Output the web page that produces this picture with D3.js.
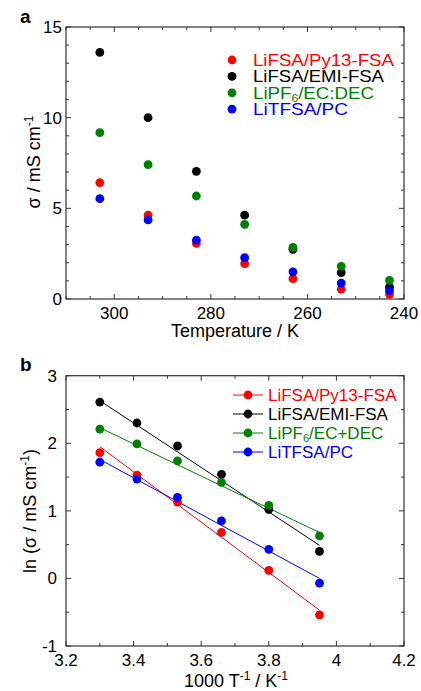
<!DOCTYPE html>
<html><head><meta charset="utf-8">
<script src="https://cdn.jsdelivr.net/npm/d3@7"></script>
<style>
html,body{margin:0;padding:0;background:#fff;}
text{font-family:"Liberation Sans",Arial,Helvetica,sans-serif;}
</style></head>
<body>
<svg id="chart" width="421" height="691"></svg>
<script>
// ---- Data ----
const seriesNames = ["LiFSA/Py13-FSA", "LiFSA/EMI-FSA", "LiPF6/EC:DEC", "LiTFSA/PC"];
const seriesColors = ["#ff0000", "#000000", "#008000", "#0000ff"];
const temperatures = [303, 293, 283, 273, 263, 253, 243];
const sigmaPy13 = [6.42, 4.62, 3.07, 1.95, 1.12, 0.55, 0.26];
const sigmaEMI  = [13.6, 10.0, 7.04, 4.62, 2.74, 1.45, 0.65];
const sigmaLiPF6 = [9.17, 7.41, 5.68, 4.12, 2.85, 1.80, 1.03];
const sigmaLiTFSA = [5.53, 4.36, 3.25, 2.28, 1.49, 0.88, 0.46];

const invT = [3.30, 3.41, 3.53, 3.66, 3.80, 3.95];
const lnPy13 = [1.86, 1.53, 1.13, 0.68, 0.12, -0.54];
const lnEMI  = [2.61, 2.30, 1.96, 1.54, 1.02, 0.40];
const lnLiPF6 = [2.21, 1.99, 1.74, 1.42, 1.08, 0.63];
const lnLiTFSA = [1.72, 1.47, 1.20, 0.85, 0.43, -0.07];

const fitX = [3.30, 3.95];
const fitPy13 = [1.95, -0.47];
const fitEMI = [2.63, 0.49];
const fitLiPF6 = [2.23, 0.68];
const fitLiTFSA = [1.76, 0.00];

const topXTicks = [300, 280, 260, 240];
const topYTicks = [0, 5, 10, 15];
const botXTicks = [3.2, 3.4, 3.6, 3.8, 4, 4.2];
const botYTicks = [-1, 0, 1, 2, 3];

const topSigma = [sigmaPy13, sigmaEMI, sigmaLiPF6, sigmaLiTFSA];
const botLn = [lnPy13, lnEMI, lnLiPF6, lnLiTFSA];
const fits = [fitPy13, fitEMI, fitLiPF6, fitLiTFSA];

const svg = d3.select("#chart");
const axisColor = "#333";

function frame(g, x, y, xMinor, yMinor, xMajor, yMajor) {
  const [x0, x1] = x.range(), [y0, y1] = y.range();
  xMinor.forEach(v => {
    const px = x(v), len = xMajor.includes(v) ? 5 : 3;
    g.append("line").attr("x1", px).attr("x2", px).attr("y1", y0).attr("y2", y0 - len).attr("stroke", axisColor);
    g.append("line").attr("x1", px).attr("x2", px).attr("y1", y1).attr("y2", y1 + len).attr("stroke", axisColor);
  });
  yMinor.forEach(v => {
    const py = y(v), len = yMajor.includes(v) ? 5 : 3;
    g.append("line").attr("x1", x0).attr("x2", x0 + len).attr("y1", py).attr("y2", py).attr("stroke", axisColor);
    g.append("line").attr("x1", x1).attr("x2", x1 - len).attr("y1", py).attr("y2", py).attr("stroke", axisColor);
  });
  g.append("rect").attr("x", Math.min(x0, x1)).attr("y", y1).attr("width", Math.abs(x1 - x0)).attr("height", y0 - y1)
    .attr("fill", "none").attr("stroke", axisColor).attr("stroke-width", 1.2);
}

// ---------- Panel a ----------
const xA = d3.scaleLinear().domain([310, 240]).range([66, 404]);
const yA = d3.scaleLinear().domain([0, 15]).range([299, 27]);
const gA = svg.append("g");
frame(gA, xA, yA, d3.range(240, 311, 5), d3.range(0, 16, 1), topXTicks, topYTicks);

gA.selectAll(".xt").data(topXTicks).enter().append("text")
  .attr("x", d => xA(d)).attr("y", 319).attr("text-anchor", "middle").attr("font-size", 17).text(d => d);
gA.selectAll(".yt").data(topYTicks).enter().append("text")
  .attr("x", 62).attr("y", d => yA(d) + 6).attr("text-anchor", "end").attr("font-size", 17).text(d => d);

topSigma.forEach((s, i) => {
  gA.append("g").selectAll("circle").data(s).enter().append("circle")
    .attr("cx", (d, j) => xA(temperatures[j])).attr("cy", d => yA(d)).attr("r", 4.4).attr("fill", seriesColors[i]);
});

gA.append("text").attr("x", 235).attr("y", 337).attr("text-anchor", "middle").attr("font-size", 18).text("Temperature / K");
const yTitleA = gA.append("text").attr("transform", "translate(39.5,162) rotate(-90)").attr("text-anchor", "middle").attr("font-size", 18);
yTitleA.append("tspan").text("σ / mS cm");
yTitleA.append("tspan").attr("font-size", 12).attr("dy", -7).text("-1");
gA.append("text").attr("x", 20).attr("y", 22.5).attr("font-size", 19).attr("font-weight", "bold").text("a");

// legend a
const legWidthsA = [141, 131, 121, 95];
const legA = gA.append("g");
seriesNames.forEach((n, i) => {
  const ly = 60 + i * 16.4;
  legA.append("circle").attr("cx", 232).attr("cy", ly).attr("r", 4.4).attr("fill", seriesColors[i]);
  const t = legA.append("text").attr("x", 253).attr("y", ly + 6).attr("font-size", 17).attr("fill", seriesColors[i])
    .attr("textLength", legWidthsA[i]).attr("lengthAdjust", "spacingAndGlyphs");
  if (i === 2) {
    t.append("tspan").text("LiPF");
    t.append("tspan").attr("font-size", 11).attr("dy", 3).text("6");
    t.append("tspan").attr("dy", -3).text("/EC:DEC");
  } else t.text(n);
});

// ---------- Panel b ----------
const xB = d3.scaleLinear().domain([3.2, 4.2]).range([66, 404]);
const yB = d3.scaleLinear().domain([-1, 3]).range([646, 375.7]);
const gB = svg.append("g");
frame(gB, xB, yB, d3.range(32, 43, 1).map(v => v / 10), d3.range(-2, 7, 1).map(v => v / 2),
  botXTicks, botYTicks);

gB.selectAll(".xt").data(botXTicks).enter().append("text")
  .attr("x", d => xB(d)).attr("y", 666).attr("text-anchor", "middle").attr("font-size", 17).text(d => d);
gB.selectAll(".yt").data(botYTicks).enter().append("text")
  .attr("x", 57).attr("y", d => yB(d) + 6).attr("text-anchor", "end").attr("font-size", 17).text(d => d);

const line = d3.line().x(d => xB(d[0])).y(d => yB(d[1]));
fits.forEach((f, i) => {
  gB.append("path").attr("d", line(fitX.map((x, j) => [x, f[j]]))).attr("stroke", seriesColors[i])
    .attr("stroke-width", 1).attr("fill", "none");
});
botLn.forEach((s, i) => {
  gB.append("g").selectAll("circle").data(s).enter().append("circle")
    .attr("cx", (d, j) => xB(invT[j])).attr("cy", d => yB(d)).attr("r", 4.4).attr("fill", seriesColors[i]);
});

const xTitleB = gB.append("text").attr("x", 236).attr("y", 687).attr("text-anchor", "middle").attr("font-size", 18);
xTitleB.append("tspan").text("1000 T");
xTitleB.append("tspan").attr("font-size", 12).attr("dy", -7).text("-1");
xTitleB.append("tspan").attr("dy", 7).text(" / K");
xTitleB.append("tspan").attr("font-size", 12).attr("dy", -7).text("-1");

const yTitleB = gB.append("text").attr("transform", "translate(36,511) rotate(-90)").attr("text-anchor", "middle").attr("font-size", 18);
yTitleB.append("tspan").text("ln (σ / mS cm");
yTitleB.append("tspan").attr("font-size", 12).attr("dy", -7).text("-1");
yTitleB.append("tspan").attr("dy", 7).text(")");
gB.append("text").attr("x", 20).attr("y", 370.5).attr("font-size", 19).attr("font-weight", "bold").text("b");

const legNamesB = ["LiFSA/Py13-FSA", "LiFSA/EMI-FSA", "LiPF6/EC+DEC", "LiTFSA/PC"];
const legB = gB.append("g");
legNamesB.forEach((n, i) => {
  const ly = 395 + i * 19;
  legB.append("line").attr("x1", 233).attr("x2", 263).attr("y1", ly).attr("y2", ly).attr("stroke", seriesColors[i]);
  legB.append("circle").attr("cx", 248).attr("cy", ly).attr("r", 4.4).attr("fill", seriesColors[i]);
  const t = legB.append("text").attr("x", 268).attr("y", ly + 6).attr("font-size", 17).attr("fill", seriesColors[i]);
  if (i === 2) {
    t.append("tspan").text("LiPF");
    t.append("tspan").attr("font-size", 11).attr("dy", 3).text("6");
    t.append("tspan").attr("dy", -3).text("/EC+DEC");
  } else t.text(n);
});
</script>
</body></html>
